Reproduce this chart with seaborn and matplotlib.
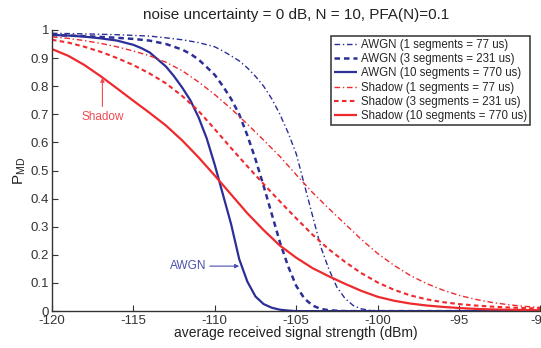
import numpy as np
import pandas as pd
import matplotlib
matplotlib.use("Agg")
import matplotlib.pyplot as plt
import seaborn as sns

# ---------------- data ----------------
x_awgn1 = [-120, -118, -116, -114, -113, -112, -111, -110, -109.5, -109, -108.5, -108,
           -107.5, -107, -106.5, -106, -105.5, -105, -104.5, -104, -103.5, -103, -102.5,
           -102, -101.5, -101, -100.5, -100, -95, -90]
y_awgn1 = [0.988, 0.986, 0.983, 0.978, 0.972, 0.965, 0.955, 0.94, 0.925, 0.908, 0.89, 0.865,
           0.835, 0.80, 0.755, 0.70, 0.635, 0.56, 0.45, 0.34, 0.23, 0.15, 0.085,
           0.045, 0.02, 0.008, 0.003, 0.0, 0.0, 0.0]

x_awgn3 = [-120, -118, -116, -115, -114, -113, -112, -111.5, -111, -110.5, -110, -109.5,
           -109, -108.5, -108, -107.5, -107, -106.5, -106, -105.5, -105, -104.5, -104,
           -103.5, -103, -102, -95, -90]
y_awgn3 = [0.982, 0.978, 0.972, 0.968, 0.962, 0.95, 0.93, 0.915, 0.895, 0.868, 0.84, 0.80,
           0.755, 0.70, 0.625, 0.54, 0.445, 0.345, 0.245, 0.16, 0.09, 0.045, 0.02,
           0.008, 0.003, 0.0, 0.0, 0.0]

x_awgn10 = [-120, -119, -118, -117, -116, -115, -114.5, -114, -113.5, -113, -112.5, -112,
            -111.5, -111, -110.5, -110, -109.5, -109, -108.5, -108, -107.5, -107, -106.5,
            -106, -105.5, -105, -95, -90]
y_awgn10 = [0.982, 0.98, 0.976, 0.97, 0.962, 0.947, 0.935, 0.92, 0.895, 0.87, 0.835, 0.795,
            0.75, 0.69, 0.615, 0.52, 0.415, 0.31, 0.185, 0.105, 0.052, 0.025, 0.012,
            0.005, 0.002, 0.0, 0.0, 0.0]

x_shadow = [-120, -119, -118, -117, -116, -115, -114, -113, -112, -111, -110, -109, -108,
            -107, -106, -105, -104, -103, -102, -101, -100, -99, -98, -97, -96, -95,
            -94, -93, -92, -91, -90]
y_shadow1 = [0.975, 0.97, 0.962, 0.952, 0.94, 0.925, 0.908, 0.885, 0.855, 0.815, 0.77, 0.72,
             0.665, 0.608, 0.55, 0.485, 0.422, 0.365, 0.31, 0.255, 0.205, 0.163, 0.127,
             0.098, 0.075, 0.056, 0.042, 0.031, 0.023, 0.017, 0.013]
y_shadow3 = [0.965, 0.955, 0.94, 0.922, 0.90, 0.875, 0.845, 0.81, 0.765, 0.712, 0.647, 0.58,
             0.515, 0.452, 0.39, 0.33, 0.272, 0.22, 0.175, 0.135, 0.102, 0.076, 0.056,
             0.042, 0.032, 0.025, 0.02, 0.016, 0.013, 0.011, 0.009]
y_shadow10 = [0.932, 0.908, 0.875, 0.835, 0.792, 0.748, 0.705, 0.66, 0.607, 0.547, 0.482,
              0.415, 0.348, 0.288, 0.233, 0.19, 0.153, 0.124, 0.097, 0.072, 0.051, 0.037,
              0.027, 0.02, 0.015, 0.011, 0.008, 0.006, 0.005, 0.004, 0.003]

labels = ["AWGN (1 segments = 77 us)", "AWGN (3 segments = 231 us)",
          "AWGN (10 segments = 770 us)", "Shadow (1 segments = 77 us)",
          "Shadow (3 segments = 231 us)", "Shadow (10 segments = 770 us)"]
x_ticks = [-120, -115, -110, -105, -100, -95, -90]
y_ticks = [0, 0.1, 0.2, 0.3, 0.4, 0.5, 0.6, 0.7, 0.8, 0.9, 1]
y_ticklabels = ["0", "0.1", "0.2", "0.3", "0.4", "0.5", "0.6", "0.7", "0.8", "0.9", "1"]

title = "noise uncertainty = 0 dB, N = 10, PFA(N)=0.1"
xlabel = "average received signal strength (dBm)"

# ---------------- styling ----------------
sns.set_theme(style="white")
plt.rcParams["font.family"] = ["Liberation Sans", "DejaVu Sans"]
plt.rcParams["mathtext.fontset"] = "custom"
plt.rcParams["mathtext.rm"] = "Liberation Sans"
plt.rcParams["mathtext.it"] = "Liberation Sans"

BLUE = "#2b2f96"
RED = "#ee2a2e"

fig = plt.figure(figsize=(5.41, 3.48), dpi=100)
ax = fig.add_axes([0.096, 0.106, 0.903, 0.808])

series = [
    (x_awgn1, y_awgn1, BLUE, (4, 2, 1, 2), 1.0),
    (x_awgn3, y_awgn3, BLUE, (2.2, 1.6), 1.8),
    (x_awgn10, y_awgn10, BLUE, None, 1.6),
    (x_shadow, y_shadow1, RED, (4, 2, 1, 2), 1.0),
    (x_shadow, y_shadow3, RED, (2.2, 1.6), 1.5),
    (x_shadow, y_shadow10, RED, None, 1.6),
]

for (xs, ys, col, dash, lw), lab in zip(series, labels):
    df = pd.DataFrame({"x": xs, "y": ys})
    line_ax = sns.lineplot(data=df, x="x", y="y", ax=ax, color=col, linewidth=lw,
                           label=lab, sort=False)
    ln = line_ax.get_lines()[-1]
    if dash is not None:
        ln.set_dashes(dash)
    ln.set_solid_capstyle("butt")
    ln.set_solid_joinstyle("round")

ax.set_xlim(-120, -90)
ax.set_ylim(0, 1)
ax.set_xticks(x_ticks)
ax.set_xticklabels([str(t) for t in x_ticks])
ax.set_yticks(y_ticks)
ax.set_yticklabels(y_ticklabels)
ax.tick_params(axis="both", direction="in", length=4, width=0.8, labelsize=9.5,
               colors="#333333", bottom=True, left=True)
ax.tick_params(axis="x", pad=3)
ax.tick_params(axis="y", pad=2)
for s in ["top", "right"]:
    ax.spines[s].set_visible(False)
for s in ["left", "bottom"]:
    ax.spines[s].set_color("#333333")
    ax.spines[s].set_linewidth(1.0)

ax.set_title(title, fontsize=11, color="#222222", pad=8)
ax.set_xlabel(xlabel, fontsize=10, color="#222222", labelpad=-1)
ax.set_ylabel(r"P$_{\rm MD}$", fontsize=11, color="#222222", labelpad=2)

leg = ax.legend(loc="upper right", bbox_to_anchor=(0.983, 0.985), fontsize=8.3,
                frameon=True, fancybox=False, handlelength=2.0, handletextpad=0.3,
                borderpad=0.25, labelspacing=0.18, borderaxespad=0.2)
leg.get_frame().set_edgecolor("#111111")
leg.get_frame().set_linewidth(1.2)

ax.annotate("Shadow", xy=(-116.9, 0.83), xytext=(-116.9, 0.69),
            color="#ee4a50", fontsize=8.5, ha="center", va="center",
            arrowprops=dict(arrowstyle="-|>", color="#ee4a50", lw=0.8,
                            mutation_scale=6, shrinkA=1, shrinkB=0))
ax.annotate("AWGN", xy=(-108.5, 0.16), xytext=(-110.5, 0.16),
            color="#4a4fb0", fontsize=8.5, ha="right", va="center",
            arrowprops=dict(arrowstyle="-|>", color="#4a4fb0", lw=0.8,
                            mutation_scale=6, shrinkA=0, shrinkB=0))

fig.savefig("out.png", dpi=100)
